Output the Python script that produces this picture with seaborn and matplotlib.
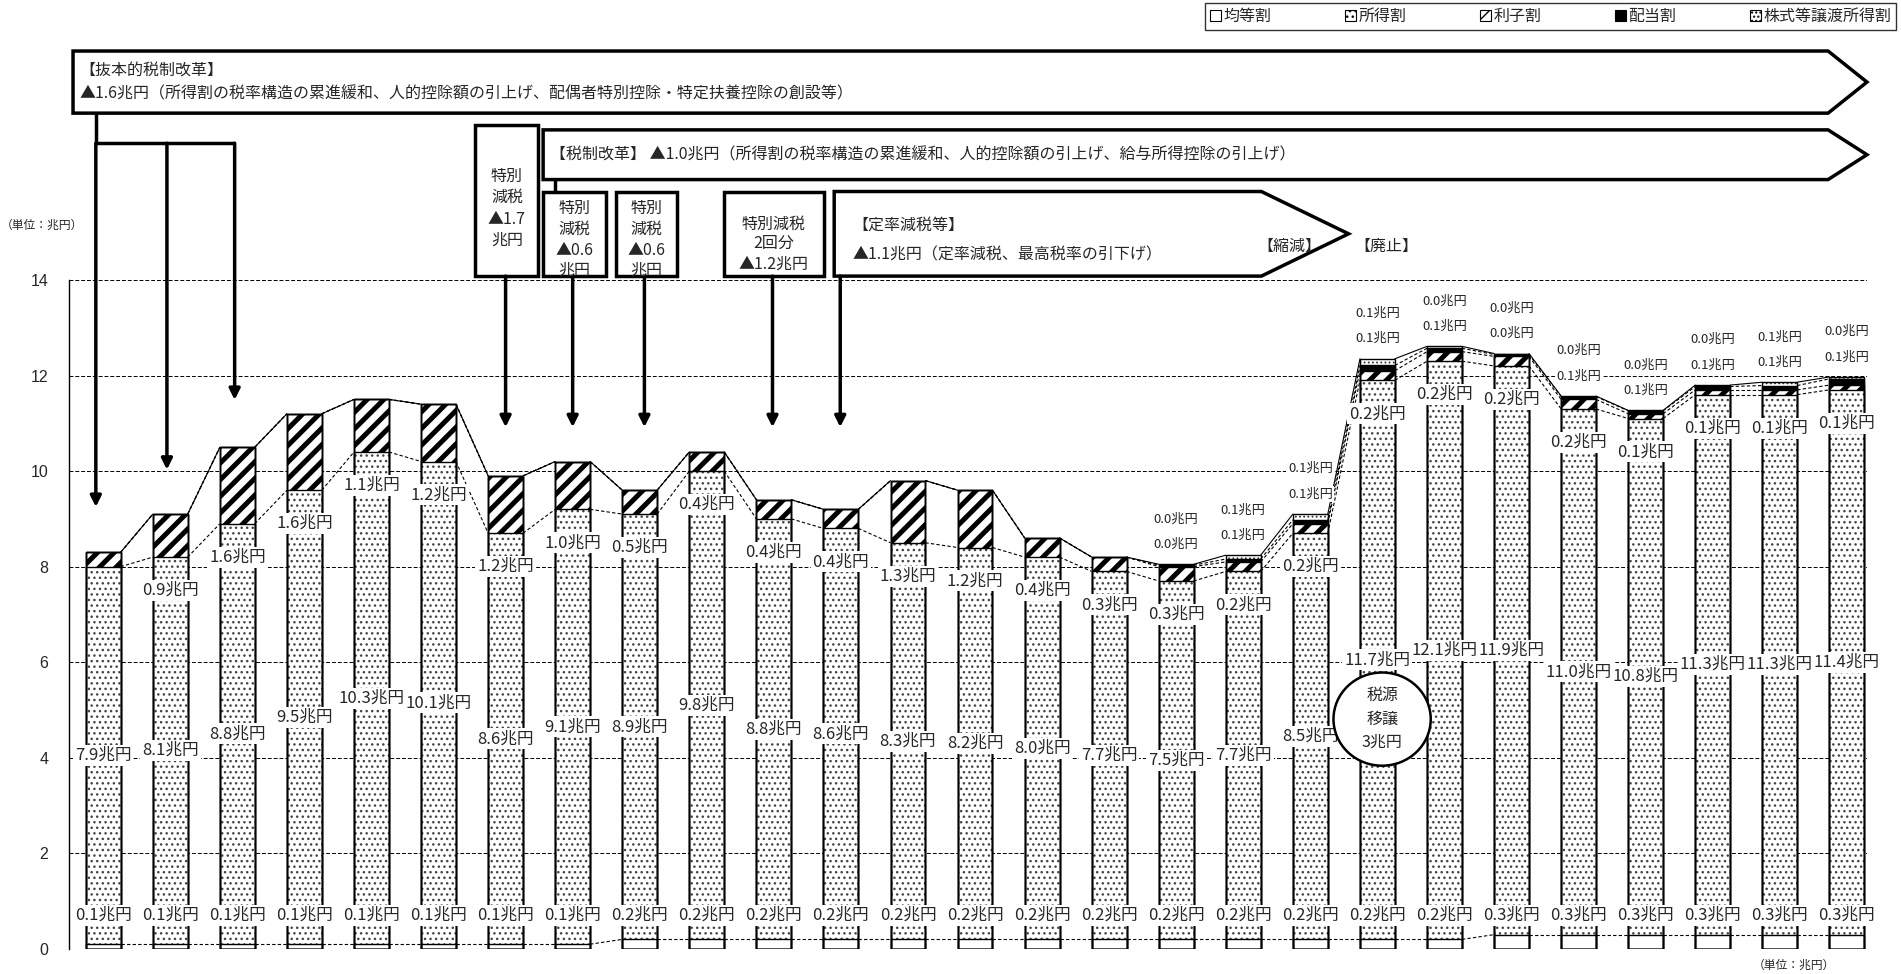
import numpy as np
import pandas as pd
import matplotlib
matplotlib.use("Agg")
import matplotlib.pyplot as plt
from matplotlib.patches import Polygon, Ellipse, Patch
import seaborn as sns

nan = np.nan

# 個人住民税の税目別収入額の推移（単位：兆円）
kinto = [0.1, 0.1, 0.1, 0.1, 0.1, 0.1, 0.1, 0.1, 0.2, 0.2, 0.2, 0.2, 0.2, 0.2,
         0.2, 0.2, 0.2, 0.2, 0.2, 0.2, 0.2, 0.3, 0.3, 0.3, 0.3, 0.3, 0.3]
shotoku = [7.9, 8.1, 8.8, 9.5, 10.3, 10.1, 8.6, 9.1, 8.9, 9.8, 8.8, 8.6, 8.3, 8.2,
           8.0, 7.7, 7.5, 7.7, 8.5, 11.7, 12.1, 11.9, 11.0, 10.8, 11.3, 11.3, 11.4]
rishi = [0.3, 0.9, 1.6, 1.6, 1.1, 1.2, 1.2, 1.0, 0.5, 0.4, 0.4, 0.4, 1.3, 1.2,
         0.4, 0.3, 0.3, 0.2, 0.2, 0.2, 0.2, 0.2, 0.2, 0.1, 0.1, 0.1, 0.1]
haito = [nan, nan, nan, nan, nan, nan, nan, nan, nan, nan, nan, nan, nan, nan,
         nan, nan, 0.03, 0.06, 0.08, 0.11, 0.07, 0.04, 0.06, 0.06, 0.07, 0.09, 0.13]
kabu = [nan, nan, nan, nan, nan, nan, nan, nan, nan, nan, nan, nan, nan, nan,
        nan, nan, 0.02, 0.08, 0.12, 0.14, 0.04, 0.02, 0.01, 0.01, 0.03, 0.07, 0.04]
series_names = ["均等割", "所得割", "利子割", "配当割", "株式等譲渡所得割"]
yticks = [0, 2, 4, 6, 8, 10, 12, 14]

sns.set_style("white")
plt.rcParams["font.family"] = ["Noto Sans CJK JP", "DejaVu Sans"]
plt.rcParams["hatch.linewidth"] = 1.0

n = len(shotoku)
pos = np.arange(n)
W = 0.52


def filled(a):
    return np.nan_to_num(np.asarray(a, dtype=float))


c1 = filled(kinto)
c2 = c1 + filled(shotoku)
c3 = c2 + filled(rishi)
c4 = c3 + filled(haito)
c5 = c4 + filled(kabu)

fig = plt.figure(figsize=(19.01, 9.74), dpi=100)
ax = fig.add_axes([0.0363, 0.0257, 0.9458, 0.6869])

# stacked bars: draw cumulative heights from the top layer down
layers = [
    (c5, "white", "....", "#333333", 0.8),   # 株式等譲渡所得割
    (c4, "black", None, "black", 1.0),       # 配当割
    (c3, "white", "//", "black", 3.6),       # 利子割
    (c2, "white", "...", "#444444", 1.0),    # 所得割
    (c1, "white", None, "black", 1.0),       # 均等割
]
for heights, face, hatch, hcol, hlw in layers:
    start = len(ax.patches)
    sns.barplot(x=pos, y=heights, color=face, saturation=1, width=W,
                linewidth=0, errorbar=None, ax=ax)
    for p in ax.patches[start:]:
        p.set_edgecolor(hcol)
        p.set_linewidth(0)
        if hatch:
            p.set_hatch(hatch)
        if hasattr(p, "set_hatch_linewidth"):
            p.set_hatch_linewidth(hlw)

for heights in (c5, c4, c3, c2, c1):
    sns.barplot(x=pos, y=heights, fill=False, color="black", linewidth=1.0,
                width=W, errorbar=None, ax=ax)

# series lines between neighbouring bars
levels = [c1, c2, c3, c4, c5]
for k, lev in enumerate(levels):
    top = k == len(levels) - 1
    for i in range(n - 1):
        ax.plot([i + W / 2, i + 1 - W / 2], [lev[i], lev[i + 1]], color="black",
                lw=0.8, ls="-" if top else (0, (3, 2)), zorder=1.5)

ax.set_xlim(-0.51, 26.3)
ax.set_ylim(0, 14)
ax.set_xticks([])
ax.set_xlabel("")
ax.set_ylabel("")
ax.set_yticks(yticks)
ax.set_yticklabels([str(v) for v in yticks], fontsize=11.5, family="Liberation Sans")
ax.tick_params(axis="y", length=0, pad=15)
ax.yaxis.grid(True, color="black", lw=0.7, ls=(0, (4, 2)))
ax.set_axisbelow(True)
for s in ("top", "right", "bottom"):
    ax.spines[s].set_visible(False)
ax.spines["left"].set_color("black")
ax.spines["left"].set_linewidth(1.0)

# value labels
box = dict(boxstyle="square,pad=0.12", fc="white", ec="none")
big = dict(ha="center", va="center", fontsize=12, bbox=box, zorder=5)
small = dict(ha="center", va="center", fontsize=9.5, bbox=box, zorder=5)
for i in range(n):
    ax.text(i, 0.7, f"{kinto[i]:.1f}兆円", **big)
    ax.text(i, (c1[i] + c2[i]) / 2, f"{shotoku[i]:.1f}兆円", **big)
    if i > 0:  # 利子割の創設初年度は表示なし
        ax.text(i, c2[i] - 0.7, f"{rishi[i]:.1f}兆円", **big)
    if not np.isnan(haito[i]):
        ax.text(i, c5[i] + 0.42, f"{haito[i]:.1f}兆円", **small)
    if not np.isnan(kabu[i]):
        ax.text(i, c5[i] + 0.95, f"{kabu[i]:.1f}兆円", **small)

# reform annotations above the plot
frame = dict(fc="white", ec="black", lw=2.5, clip_on=False, zorder=6)
arrow = dict(arrowstyle="-|>", lw=2.5, color="black", mutation_scale=16,
             shrinkA=0, shrinkB=0)
note = dict(fontsize=11.5, zorder=7, clip_on=False)


def big_arrow(left, right, tip, top, bottom):
    mid = (top + bottom) / 2
    ax.add_patch(Polygon([(left, top), (right, top), (tip, mid), (right, bottom),
                          (left, bottom)], closed=True, **frame))


def down_arrow(x, y0, y1):
    ax.annotate("", xy=(x, y1), xytext=(x, y0), arrowprops=arrow,
                annotation_clip=False, zorder=6)


def line(xs, ys):
    ax.plot(xs, ys, color="black", lw=2.5, clip_on=False, zorder=6,
            solid_capstyle="butt")


# 抜本的税制改革
big_arrow(-0.45, 25.72, 26.3, 18.79, 17.49)
ax.text(-0.36, 18.4, "【抜本的税制改革】", va="center", **note)
ax.text(-0.36, 17.9, "▲1.6兆円（所得割の税率構造の累進緩和、人的控除額の引上げ、配偶者特別控除・特定扶養控除の創設等）",
        va="center", **note)
line([-0.11, -0.11], [17.49, 16.86])
line([-0.11, 1.96], [16.86, 16.86])
down_arrow(-0.11, 16.86, 9.25)
down_arrow(0.95, 16.86, 10.03)
down_arrow(1.96, 16.86, 11.49)

# 税制改革
big_arrow(6.56, 25.72, 26.3, 17.14, 16.1)
ax.text(6.66, 16.62, "【税制改革】 ▲1.0兆円（所得割の税率構造の累進緩和、人的控除額の引上げ、給与所得控除の引上げ）",
        va="center", **note)


def rect(x0, x1, y0, y1):
    ax.add_patch(Polygon([(x0, y1), (x1, y1), (x1, y0), (x0, y0)], closed=True, **frame))


def stacked_text(x, ys, lines):
    for y, s in zip(ys, lines):
        ax.text(x, y, s, ha="center", va="center", **note)


# 特別減税 ▲1.7兆円
rect(5.55, 6.49, 14.08, 17.24)
stacked_text(6.02, [16.17, 15.72, 15.26, 14.83], ["特別", "減税", "▲1.7", "兆円"])
down_arrow(6.0, 14.08, 10.92)

# 特別減税 ▲0.6兆円（2回）
line([6.73, 6.73], [16.1, 15.85])
rect(6.56, 7.5, 14.08, 15.85)
stacked_text(7.03, [15.49, 15.05, 14.61, 14.2], ["特別", "減税", "▲0.6", "兆円"])
down_arrow(7.0, 14.08, 10.92)
rect(7.65, 8.55, 14.08, 15.85)
stacked_text(8.1, [15.49, 15.05, 14.61, 14.2], ["特別", "減税", "▲0.6", "兆円"])
down_arrow(8.07, 14.08, 10.92)

# 特別減税 2回分
rect(9.26, 10.75, 14.08, 15.85)
stacked_text(10.0, [15.16, 14.76, 14.32], ["特別減税", "2回分", "▲1.2兆円"])
down_arrow(9.98, 14.08, 10.92)

# 定率減税等
big_arrow(10.9, 17.27, 18.57, 15.85, 14.08)
ax.text(11.17, 15.14, "【定率減税等】", va="center", **note)
ax.text(11.17, 14.53, "▲1.1兆円（定率減税、最高税率の引下げ）", va="center", **note)
ax.text(17.69, 14.71, "【縮減】", ha="center", va="center", **note)
ax.text(19.13, 14.71, "【廃止】", ha="center", va="center", **note)
down_arrow(10.99, 14.08, 10.92)

# 税源移譲
ax.add_patch(Ellipse((19.07, 4.81), 1.45, 1.95, fc="white", ec="black", lw=1.8, zorder=6))
stacked_text(19.07, [5.3, 4.81, 4.32], ["税源", "移譲", "3兆円"])

fig.text(42 / 1901, 1 - 225 / 974, "（単位：兆円）", fontsize=8.5, ha="center", va="center")
fig.text(1794 / 1901, 1 - 965 / 974, "（単位：兆円）", fontsize=8.5, ha="center", va="center")

handles = [
    Patch(fc="white", ec="black", lw=0.8),
    Patch(fc="white", ec="black", lw=0.8, hatch="..."),
    Patch(fc="white", ec="black", lw=0.8, hatch="//"),
    Patch(fc="black", ec="black", lw=0.8),
    Patch(fc="white", ec="black", lw=0.8, hatch="...."),
]
leg = fig.legend(handles, series_names, loc="upper right", bbox_to_anchor=(0.9975, 0.997),
                 ncol=5, frameon=True, fancybox=False, edgecolor="black", fontsize=11.5,
                 handlelength=0.7, handleheight=0.7, handletextpad=0.15,
                 columnspacing=4.6, borderpad=0.3, borderaxespad=0.0)
leg.get_frame().set_linewidth(1.0)

fig.savefig("out.png", dpi=100)
